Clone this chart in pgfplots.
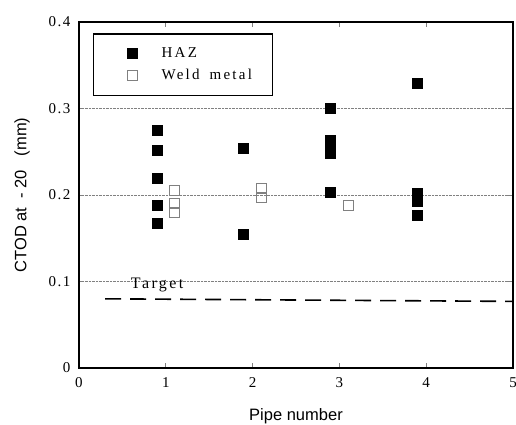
\documentclass[border=0pt]{standalone}
\usepackage{fontspec}
\setmainfont{Liberation Serif}
\newfontfamily\sans{Liberation Sans}
\newfontfamily\spaced[LetterSpace=15]{Liberation Serif}
\newfontfamily\tickf[LetterSpace=10]{Liberation Serif}
\usepackage{pgfplots}
\pgfplotsset{compat=1.18}
\begin{document}
\begin{tikzpicture}
\begin{axis}[
  scale only axis, width=434pt, height=346pt, at={(0pt,0pt)},
  xmin=0, xmax=5, ymin=0, ymax=0.4,
  xtick={0,1,2,3,4,5}, ytick={0,0.1,0.2,0.3,0.4},
  /pgf/number format/assume math mode=true,
  /pgf/number format/fixed, /pgf/number format/precision=1,
  ticklabel style={font=\tickf\fontsize{15}{15}\selectfont},
  xticklabel style={yshift=-6pt},
  yticklabel style={xshift=-5pt},
  tick align=inside, tick pos=both, major tick length=5pt,
  tick style={gray, line width=0.8pt},
  axis line style={line width=1.3pt},
  ymajorgrids, major grid style={densely dotted, gray, line width=0.6pt},
  xlabel={Pipe number}, ylabel={CTOD at\ \ - 20\ \ \ (mm)},
  label style={font=\sans\fontsize{16.5}{18}\selectfont},
  xlabel style={yshift=-14pt},
  ylabel style={yshift=12pt},
  legend style={at={(axis cs:0.161,0.3868)}, anchor=north west,
    draw=black, line width=1.3pt, inner xsep=15pt, inner ysep=12pt,
    font=\spaced\fontsize{15}{15}\selectfont, row sep=6pt, text width=94pt},
  legend cell align=left,
  legend image code/.code={\pgfpathrectangle{\pgfpoint{0pt}{-5pt}}{\pgfpoint{51pt}{10pt}}\pgfusepath{use as bounding box}\draw[#1] plot coordinates {(24pt,0pt)};},
]
\addplot[only marks, mark=square*, mark size=5pt, mark options={fill=black, draw=black, line width=0pt}]
  coordinates {(0.9,0.274)(0.9,0.251)(0.9,0.219)(0.9,0.188)(0.9,0.167)
  (1.9,0.254)(1.9,0.154)
  (2.9,0.300)(2.9,0.263)(2.9,0.256)(2.9,0.248)(2.9,0.203)
  (3.9,0.329)(3.9,0.202)(3.9,0.193)(3.9,0.176)};
\addlegendentry{HAZ}
\addplot[only marks, mark=square, mark size=5pt, mark options={draw=gray, line width=0.9pt}]
  coordinates {(1.1,0.2055)(1.1,0.190)(1.1,0.180)(2.1,0.207)(2.1,0.197)(3.1,0.188)};
\addlegendentry{Weld\ \ metal}
\addplot[black, line width=1.6pt, dash pattern=on 16pt off 9pt, forget plot]
  coordinates {(0.3,0.080)(5,0.077)};
\node[font=\spaced\fontsize{16}{16}\selectfont] at (axis cs:0.9,0.096) {Target};
\end{axis}
\pgfresetboundingbox
\useasboundingbox (-79pt,-56pt) rectangle (437pt,368pt);
\end{tikzpicture}
\end{document}
